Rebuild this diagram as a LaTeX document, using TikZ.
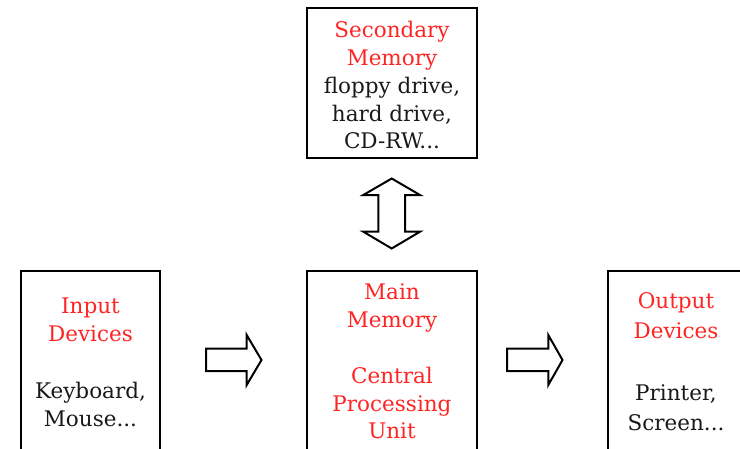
\documentclass[tikz,border=0pt]{standalone}
\usepackage{fontspec}
\setmainfont{DejaVu Serif}
\definecolor{hdrred}{RGB}{255,36,36}
\definecolor{ink}{RGB}{25,25,25}
\begin{document}
\begin{tikzpicture}[x=1pt,y=-1pt,
  unitbox/.style={draw=black,line width=2pt,rectangle,inner sep=0pt},
  hdr/.style={text=hdrred,font=\fontsize{21.5}{26}\selectfont,anchor=base,inner sep=0pt},
  body/.style={text=ink,font=\fontsize{21.5}{26}\selectfont,anchor=base,inner sep=0pt},
  blockarrow/.style={draw=black,line width=2pt,fill=white,line join=miter}
]
\useasboundingbox (0,0) rectangle (740,448);
\clip (0,0) rectangle (740,448);

% units of the computer
\node[unitbox,minimum width=170pt,minimum height=150pt] (sec) at (392,83) {};
\node[unitbox,minimum width=139pt,minimum height=200pt] (inp) at (90.5,371) {};
\node[unitbox,minimum width=170pt,minimum height=200pt] (mem) at (392,371) {};
\node[unitbox,minimum width=140pt,minimum height=200pt] (outp) at (678,371) {};

% secondary memory
\node[hdr]  (secA) at (392,37)  {Secondary};
\node[hdr]  (secB) at (392,65)  {Memory};
\node[body] (secC) at (392,93)  {floppy drive,};
\node[body] (secD) at (392,121) {hard drive,};
\node[body] (secE) at (392,148) {CD-RW...};

% input devices
\node[hdr]  (inpA) at (90.5,313)   {Input};
\node[hdr]  (inpB) at (90.5,341.5) {Devices};
\node[body] (inpC) at (90.5,398.5) {Keyboard,};
\node[body] (inpD) at (90.5,426.5) {Mouse...};

% main memory and CPU
\node[hdr] (memA) at (392,299.5) {Main};
\node[hdr] (memB) at (392,327)   {Memory};
\node[hdr] (memC) at (392,383.5) {Central};
\node[hdr] (memD) at (392,411.5) {Processing};
\node[hdr] (memE) at (392,438.5) {Unit};

% output devices
\node[hdr]  (outA) at (676,308.5) {Output};
\node[hdr]  (outB) at (676,338.5) {Devices};
\node[body] (outC) at (676,400)   {Printer,};
\node[body] (outD) at (676,430)   {Screen...};

% two-way transfer between secondary and main memory
\draw[blockarrow] (391.7,178.5) -- (420,195) -- (405,195) -- (405,231.7) -- (420,231.7)
  -- (391.7,248.5) -- (363.3,231.7) -- (378.3,231.7) -- (378.3,195) -- (363.3,195) -- cycle;

% input -> processing
\draw[blockarrow] (206,348.5) -- (246.7,348.5) -- (246.7,335) -- (261.5,360)
  -- (246.7,385) -- (246.7,371) -- (206,371) -- cycle;

% processing -> output
\draw[blockarrow] (507,348.5) -- (548.3,348.5) -- (548.3,335) -- (562.5,360)
  -- (548.3,385) -- (548.3,371) -- (507,371) -- cycle;
\end{tikzpicture}
\end{document}
